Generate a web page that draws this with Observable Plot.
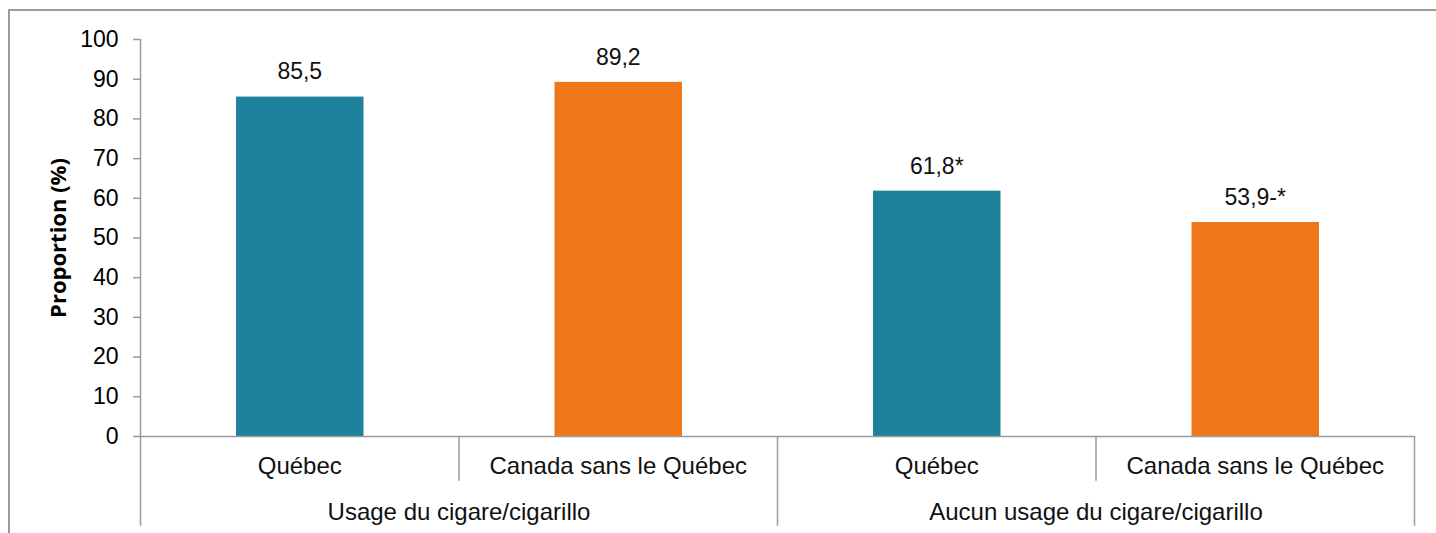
<!DOCTYPE html>
<html>
<head>
<meta charset="utf-8">
<script src="https://cdn.jsdelivr.net/npm/d3@7"></script>
<script src="https://cdn.jsdelivr.net/npm/@observablehq/plot@0.6"></script>
<style>
  html, body { margin: 0; padding: 0; background: #fff; }
  #wrap { position: relative; width: 1436px; height: 533px; overflow: hidden; }
  #frame { position: absolute; left: 8px; top: 9px; right: -10px; bottom: -10px;
           border-left: 2px solid #9c9c9c; border-top: 2px solid #9c9c9c; }
  #chart { position: absolute; left: 0; top: 0; }
</style>
</head>
<body>
<div id="wrap"><div id="frame"></div><div id="chart"></div></div>
<script>
const groups = ["Usage du cigare/cigarillo", "Aucun usage du cigare/cigarillo"];
const regions = ["Québec", "Canada sans le Québec"];
const values = [85.5, 89.2, 61.8, 53.9];
const valueLabels = ["85,5", "89,2", "61,8*", "53,9-*"];
const colors = ["#1e829c", "#f0761a"];
const yTicks = [0, 10, 20, 30, 40, 50, 60, 70, 80, 90, 100];
const yTitle = "Proportion (%)";

const data = values.map((v, i) => ({
  i,
  group: groups[Math.floor(i / 2)],
  region: regions[i % 2],
  value: v,
  label: valueLabels[i]
}));
const groupData = groups.map((g, k) => ({ g, center: 2 * k + 1 }));
const bounds = d3.range(0, values.length + 1);
const longBounds = bounds.filter(b => b % 2 === 0);
const shortBounds = bounds.filter(b => b % 2 === 1);

const FONT = "'Liberation Sans', Arial, Helvetica, sans-serif";

const chart = Plot.plot({
  width: 1436,
  height: 533,
  marginLeft: 140,
  marginRight: 22,
  marginTop: 39,
  marginBottom: 97,
  style: { fontFamily: FONT, fontSize: "23px", color: "#000", background: "transparent" },
  x: { type: "linear", domain: [0, values.length], axis: null },
  y: { domain: [0, 100], axis: null },
  color: { domain: regions, range: colors },
  marks: [
    Plot.rectY(data, { x1: "i", x2: d => d.i + 1, y: "value", fill: "region", insetLeft: 96, insetRight: 95 }),
    Plot.text(data, { x: d => d.i + 0.5, y: "value", text: "label", dy: -25, fontSize: 23, fill: "#111" }),
    // x axis line
    Plot.ruleY([0], { x1: 0, x2: values.length, stroke: "#9a9a9a", strokeWidth: 1.5 }),
    // y axis line
    Plot.ruleX([0], { y1: 0, y2: 100, stroke: "#9a9a9a", strokeWidth: 1.5 }),
    Plot.axisY({ ticks: yTicks, tickSize: 7, tickPadding: 15, stroke: "#9a9a9a", strokeWidth: 1.5, fill: "#000", fontSize: 23, label: null, tickFormat: d => String(d) }),
    // category separators
    Plot.ruleX(shortBounds, { y1: 0, y2: -11.3, stroke: "#9a9a9a", strokeWidth: 1.5 }),
    Plot.ruleX(longBounds, { y1: 0, y2: -22.6, stroke: "#9a9a9a", strokeWidth: 1.5 }),
    // category labels
    Plot.text(data, { x: d => d.i + 0.5, y: 0, text: "region", dy: 30, fontSize: 24, fill: "#111" }),
    Plot.text(groupData, { x: "center", y: 0, text: "g", dy: 76, fontSize: 24, fill: "#111" }),
    // y title
    Plot.text([yTitle], { frameAnchor: "left", textAnchor: "middle", text: d => d, rotate: -90, dx: -82, fontSize: 22, fontWeight: "bold", fontFamily: "'Open Sans', sans-serif", fill: "#000" })
  ]
});
document.getElementById("chart").appendChild(chart);
</script>
</body>
</html>
